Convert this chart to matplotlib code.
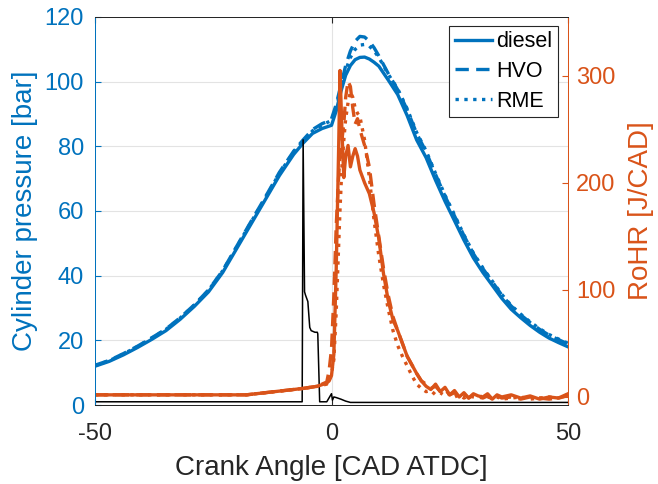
import matplotlib
matplotlib.use('Agg')
import matplotlib.pyplot as plt

plt.rcParams['font.family'] = ['Liberation Sans', 'DejaVu Sans']
plt.rcParams['axes.unicode_minus'] = False

BLUE = '#0072BD'
ORANGE = '#D95319'
DARK = '#262626'

# cylinder pressure [bar]
cad_p = [-50, -47, -44, -41, -38, -35, -32, -29, -26, -23, -20, -17, -14, -11, -8, -6, -4, -2, -1, 0,
         1, 2, 3, 4, 5, 6, 7, 8, 9, 10, 12, 14, 16, 18, 20, 22, 24, 26, 28, 30,
         32, 34, 36, 38, 40, 42, 44, 46, 48, 50]
p_diesel = [12, 13.5, 15.5, 17.8, 20.3, 23, 26.5, 30.5, 35, 41, 48.5, 56, 63.5, 71, 77.5, 81, 84, 85.5, 86, 86.5,
            91, 97, 102, 105, 106.8, 107.5, 107.6, 107, 106, 104.8, 100.5, 96, 89.5, 82, 76.5, 69.5, 63, 57, 51, 45.5,
            41, 37, 33, 29.6, 27, 24.6, 22.5, 20.7, 19.3, 18]
p_hvo = [12.3, 13.8, 15.9, 18.2, 20.8, 23.5, 27, 31, 35.6, 41.6, 49.2, 56.8, 64.3, 72, 78.5, 82, 85.2, 87, 87.6, 88.5,
         93, 99, 105, 109.5, 112.5, 114, 113.8, 112.5, 110.5, 108, 102.5, 97.5, 91.3, 84, 78.3, 71.3, 64.6, 58.5, 52.4, 46.8,
         42.2, 38.1, 34, 30.6, 27.9, 25.5, 23.4, 21.6, 20.2, 18.9]
p_rme = [12.2, 13.7, 15.8, 18.1, 20.7, 23.4, 26.9, 30.9, 35.5, 41.5, 49, 56.6, 64, 71.7, 78.2, 81.7, 84.8, 86.6, 87.3, 88,
         92, 98, 103.5, 107.5, 110, 111.3, 111.5, 111, 109.5, 107.5, 102.3, 97.8, 91.6, 84.3, 78.6, 71.6, 64.9, 58.8, 52.6, 47,
         42.4, 38.3, 34.2, 30.8, 28.1, 25.7, 23.6, 21.8, 20.4, 19.1]

# injection signal (plotted on pressure scale)
cad_inj = [-50, -6.2, -6.0, -5.7, -5.5, -5.0, -4.6, -4.3, -3.5, -3.0, -2.9, -2.5, -1.0, 0.0, 0.2, 0.5, 1.0, 2.0, 3.0, 4.0, 50]
inj = [1, 1, 82, 35, 34, 32, 24, 23, 22.5, 22.5, 22, 1, 1, 3.5, 1.5, 2.5, 2.3, 1.8, 1.2, 0.8, 0.8]

# rate of heat release [J/CAD]
cad_r = [-50, -18, -14, -10, -6, -3, -1, -0.5, 0, 0.5, 1, 1.5, 1.8, 2.2, 2.6, 3, 3.5, 4, 4.5, 5, 5.5, 6,
         7, 8, 9, 10, 11, 12, 13, 14, 15, 16, 17, 18, 19, 20, 21, 22, 23, 24, 25, 26, 27, 28, 29, 30,
         31, 32, 33, 34, 35, 36, 38, 40, 42, 44, 46, 48, 49, 50]
r_diesel = [2, 2, 4, 6, 8, 10, 13, 15, 20, 40, 120, 230, 305, 250, 205, 225, 235, 215, 225, 232, 225, 212,
            200, 190, 172, 148, 115, 90, 72, 62, 50, 38, 30, 22, 15, 10, 7, 12, 5, 9, 2, 6, 0, 4, -1, 3,
            1, 0, 3, -2, 2, 0, 2, -1, 1, -2, 0, -1, 1, 3]
r_hvo = [2, 2, 4, 6, 8, 10, 14, 25, 45, 95, 160, 205, 225, 240, 255, 280, 295, 290, 270, 255, 260, 250,
         235, 215, 180, 150, 120, 95, 75, 62, 50, 38, 30, 22, 15, 12, 8, 10, 5, 7, 2, 4, 0, 3, -1, 2,
         0, -1, 1, -2, 1, -1, 0, -2, 0, -1, -2, -1, 0, 2]
r_rme = [2, 2, 4, 6, 8, 10, 12, 16, 22, 35, 80, 140, 175, 215, 240, 260, 275, 285, 280, 270, 265, 262,
         240, 205, 165, 132, 105, 82, 62, 48, 38, 29, 20, 12, 8, 5, 6, 2, 4, 1, 3, 0, 2, -1, 1, 0,
         -1, 1, 0, -1, 0, -2, -1, 0, -2, -1, 0, -1, 1, 2]

fig = plt.figure(figsize=(6.58, 4.84), dpi=100)
ax1 = fig.add_axes([0.1444, 0.1632, 0.7188, 0.8017])
ax2 = ax1.twinx()

lw = 2.4
h1, = ax1.plot(cad_p, p_diesel, '-', color=BLUE, lw=lw, label='diesel')
h2, = ax1.plot(cad_p, p_hvo, '--', color=BLUE, lw=lw, label='HVO', dashes=(4, 2.2))
h3, = ax1.plot(cad_p, p_rme, ':', color=BLUE, lw=lw, label='RME')
ax1.plot(cad_inj, inj, '-', color='black', lw=1.1)

ax2.plot(cad_r, r_diesel, '-', color=ORANGE, lw=lw)
ax2.plot(cad_r, r_hvo, '--', color=ORANGE, lw=lw, dashes=(4, 2.2))
ax2.plot(cad_r, r_rme, ':', color=ORANGE, lw=lw)

ax1.set_xlim(-50, 50)
ax1.set_ylim(0, 120)
ax2.set_ylim(-7.5, 355)
ax1.set_xticks([-50, 0, 50])
ax1.set_yticks([0, 20, 40, 60, 80, 100, 120])
ax2.set_yticks([0, 100, 200, 300])

ax1.grid(True, color='#e3e3e3', lw=0.8)
ax1.set_axisbelow(True)

ax1.tick_params(axis='x', direction='in', colors=DARK, labelsize=17, length=4, top=True, pad=13)
ax1.tick_params(axis='y', direction='in', colors=BLUE, labelsize=17, length=4, pad=8)
ax2.tick_params(axis='y', direction='in', colors=ORANGE, labelsize=17, length=4, pad=6)

for ax in (ax1, ax2):
    ax.spines['top'].set_color(DARK)
    ax.spines['bottom'].set_color(DARK)
    ax.spines['left'].set_color(BLUE)
    ax.spines['right'].set_color(ORANGE)
    for s in ax.spines.values():
        s.set_linewidth(0.7)

ax1.set_xlabel('Crank Angle [CAD ATDC]', fontsize=20, color=DARK, labelpad=7)
ax1.set_ylabel('Cylinder pressure [bar]', fontsize=20, color=BLUE, labelpad=5)
ax2.set_ylabel('RoHR [J/CAD]', fontsize=20, color=ORANGE, labelpad=9)

leg = ax2.legend(handles=[h1, h2, h3], loc='upper right', bbox_to_anchor=(0.979, 0.977),
                 borderaxespad=0, fontsize=15.5, frameon=True, fancybox=False, framealpha=1,
                 edgecolor=DARK, handlelength=1.75, handletextpad=0.2, labelspacing=0.4,
                 borderpad=0.25)
leg.get_frame().set_linewidth(0.8)

fig.savefig('out.png', dpi=100)
